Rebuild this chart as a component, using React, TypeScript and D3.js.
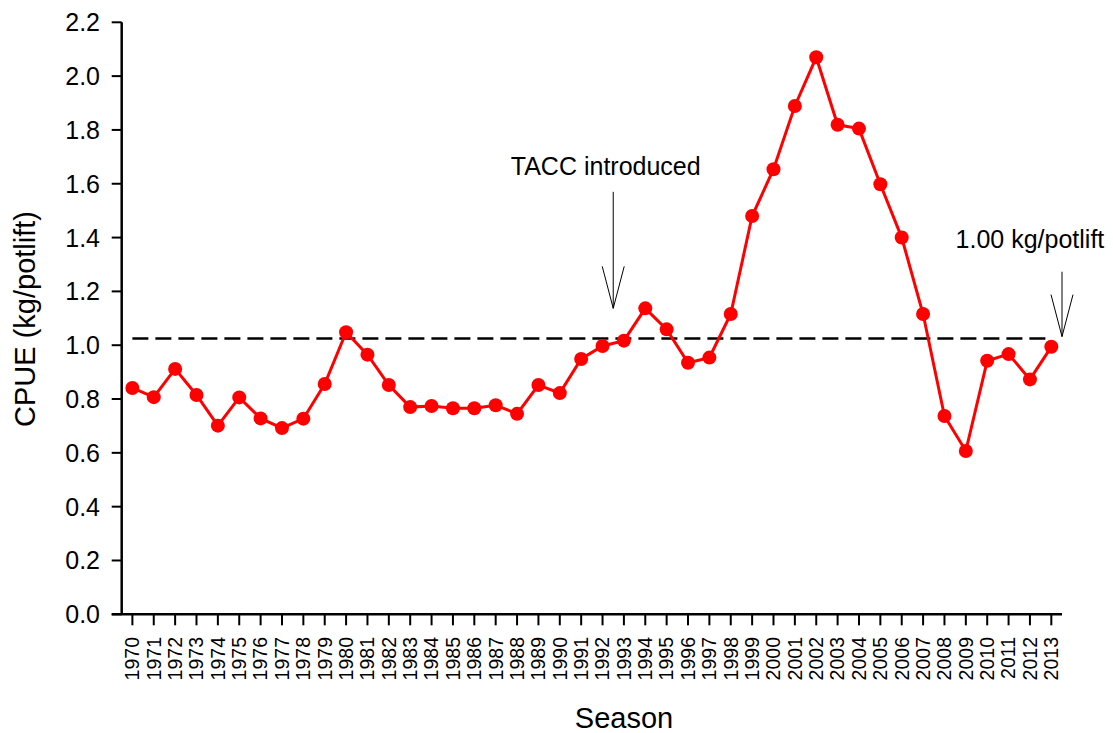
import React from "react";
import * as d3 from "d3";

const years: number[] = d3.range(1970, 2014);
const cpue: number[] = [
  0.841, 0.807, 0.912, 0.815, 0.701, 0.806, 0.728, 0.692, 0.727, 0.856,
  1.048, 0.965, 0.852, 0.770, 0.774, 0.766, 0.766, 0.777, 0.745, 0.852,
  0.822, 0.949, 0.997, 1.017, 1.137, 1.059, 0.935, 0.954, 1.116, 1.480,
  1.654, 1.889, 2.070, 1.819, 1.805, 1.598, 1.400, 1.116, 0.737, 0.607,
  0.942, 0.967, 0.873, 0.994,
];
const yTicks: number[] = [0, 0.2, 0.4, 0.6, 0.8, 1.0, 1.2, 1.4, 1.6, 1.8, 2.0, 2.2];
const referenceLevel = 1.025;
const annotations = [
  { label: "TACC introduced", x: 1992.5, textY: 1.633, textX: 1992.15, from: 1.57, to: 1.137 },
  { label: "1.00 kg/potlift", x: 2013.5, textY: 1.361, textX: 2012.0, from: 1.273, to: 1.032 },
];

const W = 1113;
const H = 733;
const FONT = "'Liberation Sans', Arial, Helvetica, sans-serif";

export default function App() {
  const x = d3.scaleLinear().domain([1969.5, 2013.5]).range([121.7, 1062]);
  const y = d3.scaleLinear().domain([0, 2.2]).range([614.3, 22.3]);
  const line = d3
    .line<number>()
    .x((_, i) => x(years[i]))
    .y((d) => y(d));

  return (
    <svg
      width={W}
      height={H}
      style={{ position: "absolute", left: 0, top: 0, background: "#fff" }}
      fontFamily={FONT}
    >
      <rect x={0} y={0} width={W} height={H} fill="#fff" />
      {/* reference dashed line */}
      <line
        x1={x(1970)}
        x2={x(2013)}
        y1={y(referenceLevel)}
        y2={y(referenceLevel)}
        stroke="#000"
        strokeWidth={2.5}
        strokeDasharray="16,7"
      />
      {/* data line */}
      <path d={line(cpue) || ""} fill="none" stroke="#ff0000" strokeWidth={3} />
      {cpue.map((v, i) => (
        <circle key={i} cx={x(years[i])} cy={y(v)} r={7} fill="#ff0000" />
      ))}

      {/* axes */}
      <line x1={x.range()[0]} x2={x.range()[0]} y1={y(2.2)} y2={y(0)} stroke="#000" strokeWidth={2.5} />
      <line x1={x.range()[0] - 10} x2={x.range()[1]} y1={y(0)} y2={y(0)} stroke="#000" strokeWidth={2.5} />
      {yTicks.map((t) => (
        <g key={t}>
          <line x1={x.range()[0] - 10} x2={x.range()[0]} y1={y(t)} y2={y(t)} stroke="#000" strokeWidth={2} />
          <text x={100} y={y(t)} dy="0.36em" textAnchor="end" fontSize={25} fill="#000">
            {d3.format(".1f")(t)}
          </text>
        </g>
      ))}
      {years.map((yr) => (
        <g key={yr}>
          <line x1={x(yr)} x2={x(yr)} y1={y(0)} y2={y(0) + 11} stroke="#000" strokeWidth={2} />
          <text
            transform={`translate(${x(yr)},637) rotate(-90)`}
            dy="0.35em"
            textAnchor="end"
            fontSize={19.5}
            fill="#000"
          >
            {yr}
          </text>
        </g>
      ))}

      {/* axis titles */}
      <text x={624} y={728} textAnchor="middle" fontSize={29} fill="#000">
        Season
      </text>
      <text transform="translate(35,319) rotate(-90)" textAnchor="middle" fontSize={29} fill="#000">
        CPUE (kg/potlift)
      </text>

      {/* annotations */}
      {annotations.map((a) => {
        const ax = x(a.x);
        const y1 = y(a.from);
        const y2 = y(a.to);
        return (
          <g key={a.label}>
            <text x={x(a.textX)} y={y(a.textY)} textAnchor="middle" fontSize={25} fill="#000">
              {a.label}
            </text>
            <line x1={ax} x2={ax} y1={y1} y2={y2} stroke="#000" strokeWidth={1} />
            <polyline
              points={`${ax - 11},${y2 - 42} ${ax},${y2} ${ax + 11},${y2 - 42}`}
              fill="none"
              stroke="#000"
              strokeWidth={1}
            />
          </g>
        );
      })}
    </svg>
  );
}
